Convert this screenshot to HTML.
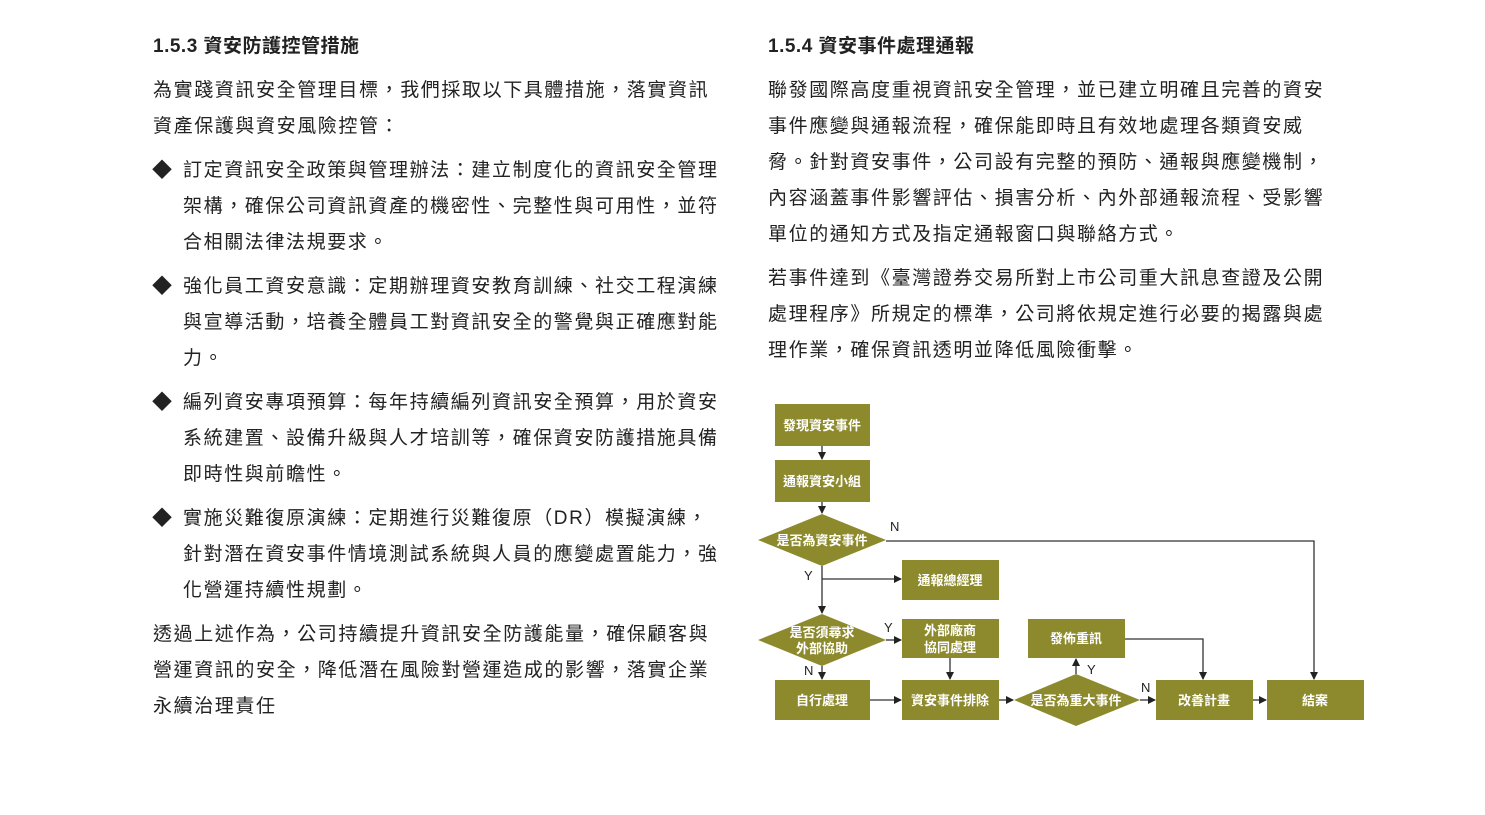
<!DOCTYPE html>
<html><head><meta charset="utf-8"><style>
body{margin:0;background:#fff;width:1485px;height:815px;position:relative;overflow:hidden;font-family:"Liberation Sans","Noto Sans CJK TC",sans-serif;color:#222}
.l{position:absolute;font-size:19px;line-height:26px;letter-spacing:1.6px;white-space:nowrap;margin-top:2px}
.h{position:absolute;font-size:19px;line-height:26px;font-weight:bold;white-space:nowrap;letter-spacing:0.5px;margin-top:2px}
.b{position:absolute;font-size:20px;line-height:26px;margin-top:2px}
svg{position:absolute;left:0;top:0}
</style></head><body>
<div class="h" style="left:153px;top:32px">1.5.3 資安防護控管措施</div>
<div class="l" style="left:153px;top:76px">為實踐資訊安全管理目標，我們採取以下具體措施，落實資訊</div>
<div class="l" style="left:153px;top:112px">資產保護與資安風險控管：</div>
<div class="b" style="left:152px;top:156px">◆</div>
<div class="l" style="left:183px;top:156px">訂定資訊安全政策與管理辦法：建立制度化的資訊安全管理</div>
<div class="l" style="left:183px;top:192px">架構，確保公司資訊資產的機密性、完整性與可用性，並符</div>
<div class="l" style="left:183px;top:228px">合相關法律法規要求。</div>
<div class="b" style="left:152px;top:272px">◆</div>
<div class="l" style="left:183px;top:272px">強化員工資安意識：定期辦理資安教育訓練、社交工程演練</div>
<div class="l" style="left:183px;top:308px">與宣導活動，培養全體員工對資訊安全的警覺與正確應對能</div>
<div class="l" style="left:183px;top:344px">力。</div>
<div class="b" style="left:152px;top:388px">◆</div>
<div class="l" style="left:183px;top:388px">編列資安專項預算：每年持續編列資訊安全預算，用於資安</div>
<div class="l" style="left:183px;top:424px">系統建置、設備升級與人才培訓等，確保資安防護措施具備</div>
<div class="l" style="left:183px;top:460px">即時性與前瞻性。</div>
<div class="b" style="left:152px;top:504px">◆</div>
<div class="l" style="left:183px;top:504px">實施災難復原演練：定期進行災難復原（DR）模擬演練，</div>
<div class="l" style="left:183px;top:540px">針對潛在資安事件情境測試系統與人員的應變處置能力，強</div>
<div class="l" style="left:183px;top:576px">化營運持續性規劃。</div>
<div class="l" style="left:153px;top:620px">透過上述作為，公司持續提升資訊安全防護能量，確保顧客與</div>
<div class="l" style="left:153px;top:656px">營運資訊的安全，降低潛在風險對營運造成的影響，落實企業</div>
<div class="l" style="left:153px;top:692px">永續治理責任</div>

<div class="h" style="left:768px;top:32px">1.5.4 資安事件處理通報</div>
<div class="l" style="left:768px;top:76px">聯發國際高度重視資訊安全管理，並已建立明確且完善的資安</div>
<div class="l" style="left:768px;top:112px">事件應變與通報流程，確保能即時且有效地處理各類資安威</div>
<div class="l" style="left:768px;top:148px">脅。針對資安事件，公司設有完整的預防、通報與應變機制，</div>
<div class="l" style="left:768px;top:184px">內容涵蓋事件影響評估、損害分析、內外部通報流程、受影響</div>
<div class="l" style="left:768px;top:220px">單位的通知方式及指定通報窗口與聯絡方式。</div>
<div class="l" style="left:768px;top:264px">若事件達到《臺灣證券交易所對上市公司重大訊息查證及公開</div>
<div class="l" style="left:768px;top:300px">處理程序》所規定的標準，公司將依規定進行必要的揭露與處</div>
<div class="l" style="left:768px;top:336px">理作業，確保資訊透明並降低風險衝擊。</div>

<svg width="1485" height="815" font-family="Liberation Sans, Noto Sans CJK TC, sans-serif">
<defs><marker id="a" markerWidth="8" markerHeight="8" refX="7" refY="4" orient="auto" markerUnits="userSpaceOnUse"><path d="M0,0 L8,4 L0,8 z" fill="#222"/></marker></defs>
<g fill="#8c8a2c">
<rect x="775" y="404" width="95" height="42"/>
<rect x="775" y="460" width="95" height="42"/>
<polygon points="758,540 822,514 886,540 822,566"/>
<rect x="902" y="560" width="97" height="40"/>
<polygon points="758,640 822,614 886,640 822,666"/>
<rect x="902" y="619" width="97" height="39"/>
<rect x="775" y="680" width="95" height="40"/>
<rect x="902" y="680" width="97" height="40"/>
<polygon points="1014,700 1076,674 1140,700 1076,726"/>
<rect x="1028" y="619" width="97" height="39"/>
<rect x="1156" y="680" width="97" height="40"/>
<rect x="1267" y="680" width="97" height="40"/>
</g>
<g stroke="#333" stroke-width="1.3" fill="none" marker-end="url(#a)">
<line x1="822" y1="446" x2="822" y2="459"/>
<line x1="822" y1="502" x2="822" y2="513"/>
<line x1="822" y1="566" x2="822" y2="613"/>
<line x1="822" y1="579" x2="901" y2="579"/>
<line x1="886" y1="640" x2="901" y2="640"/>
<line x1="822" y1="666" x2="822" y2="679"/>
<line x1="950" y1="658" x2="950" y2="679"/>
<line x1="870" y1="700" x2="901" y2="700"/>
<line x1="999" y1="700" x2="1013" y2="700"/>
<line x1="1076" y1="674" x2="1076" y2="659"/>
<line x1="1140" y1="700" x2="1155" y2="700"/>
<line x1="1253" y1="700" x2="1266" y2="700"/>
<polyline points="1125,639 1203,639 1203,679"/>
<polyline points="886,541 1314,541 1314,679"/>
</g>
<g fill="#fff" font-size="13" font-weight="bold" text-anchor="middle">
<text x="822" y="430">發現資安事件</text>
<text x="822" y="486">通報資安小組</text>
<text x="822" y="545">是否為資安事件</text>
<text x="950" y="585">通報總經理</text>
<text x="822" y="637">是否須尋求</text>
<text x="822" y="653">外部協助</text>
<text x="950" y="635">外部廠商</text>
<text x="950" y="652">協同處理</text>
<text x="822" y="705">自行處理</text>
<text x="950" y="705">資安事件排除</text>
<text x="1076" y="705">是否為重大事件</text>
<text x="1076" y="643">發佈重訊</text>
<text x="1204" y="705">改善計畫</text>
<text x="1315" y="705">結案</text>
</g>
<g fill="#222" font-size="13">
<text x="890" y="531">N</text>
<text x="804" y="580">Y</text>
<text x="884" y="632">Y</text>
<text x="804" y="675">N</text>
<text x="1087" y="674">Y</text>
<text x="1141" y="692">N</text>
</g>
</svg>
</body></html>
